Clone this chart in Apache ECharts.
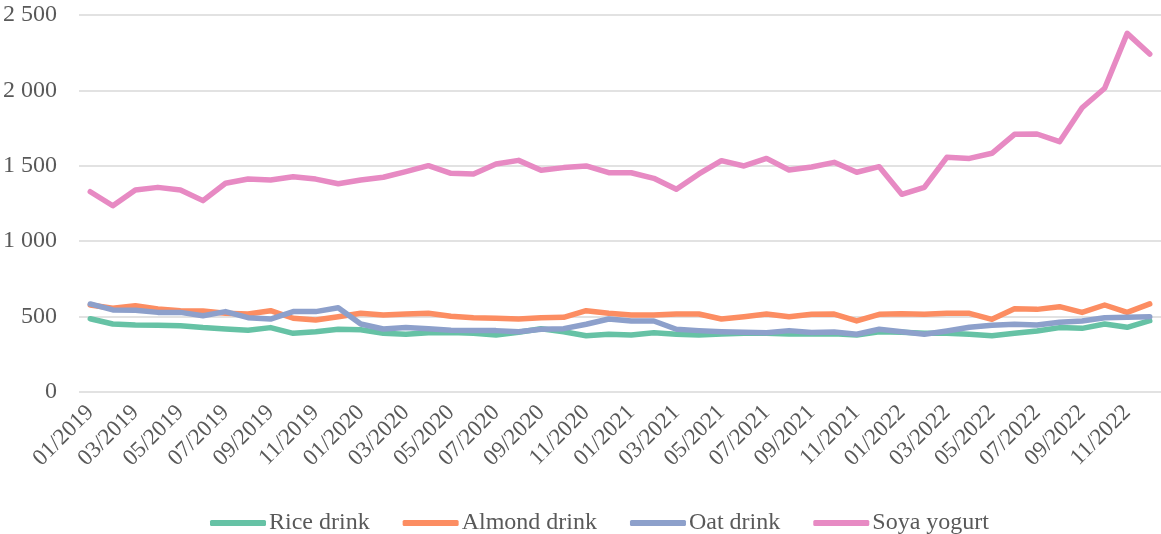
<!DOCTYPE html>
<html>
<head>
<meta charset="utf-8">
<script src="https://cdn.jsdelivr.net/npm/echarts@6/dist/echarts.min.js"></script>
<style>
html,body{margin:0;padding:0;background:#fff;}
#chart{width:1161px;height:534px;}
</style>
</head>
<body>
<div id="chart"></div>
<script>
const months = ["01/2019","02/2019","03/2019","04/2019","05/2019","06/2019","07/2019","08/2019","09/2019","10/2019","11/2019","12/2019",
"01/2020","02/2020","03/2020","04/2020","05/2020","06/2020","07/2020","08/2020","09/2020","10/2020","11/2020","12/2020",
"01/2021","02/2021","03/2021","04/2021","05/2021","06/2021","07/2021","08/2021","09/2021","10/2021","11/2021","12/2021",
"01/2022","02/2022","03/2022","04/2022","05/2022","06/2022","07/2022","08/2022","09/2022","10/2022","11/2022","12/2022"];

const riceDrink = [486,451,444,442,440,427,418,409,427,389,400,416,413,389,383,393,395,389,378,396,420,400,373,383,378,393,383,378,385,389,389,385,385,387,378,400,396,389,389,383,373,389,405,427,422,451,429,473];
const almondDrink = [577,555,572,550,539,537,522,517,539,489,477,499,522,511,517,522,503,493,489,484,493,495,539,522,511,511,517,517,484,499,517,499,516,517,471,515,519,515,522,522,482,552,548,566,528,577,528,584];
const oatDrink = [584,544,542,528,528,506,533,493,484,533,533,559,451,418,427,420,409,407,407,400,416,420,449,484,471,471,416,407,400,396,393,407,395,398,383,416,400,383,405,429,442,449,444,462,471,493,495,499];
const soyaYogurt = [1328,1235,1340,1357,1340,1269,1384,1412,1406,1428,1412,1381,1406,1424,1461,1501,1450,1446,1512,1536,1470,1488,1499,1454,1454,1417,1344,1446,1534,1499,1549,1472,1492,1523,1457,1494,1311,1357,1556,1549,1583,1709,1711,1660,1885,2014,2378,2241];

const seriesNames = ["Rice drink","Almond drink","Oat drink","Soya yogurt"];
const seriesColors = ["#66c2a5","#fc8d62","#8da0cb","#e78ac3"];
const seriesData = [riceDrink, almondDrink, oatDrink, soyaYogurt];

const FONT = '"Liberation Serif","Times New Roman",serif';
const chart = echarts.init(document.getElementById('chart'), null, {renderer:'canvas'});
chart.setOption({
  animation:false,
  color: seriesColors,
  grid:{left:79,right:0,top:15,bottom:142,containLabel:false},
  legend:{
    left:205, top:506,
    itemWidth:56, itemHeight:6, itemGap:33,
    icon:'roundRect',
    textStyle:{fontFamily:FONT,fontSize:24,color:'#595959',padding:[0,0,0,-2]},
    data: seriesNames
  },
  xAxis:{
    type:'category',
    data: months,
    boundaryGap:true,
    axisLine:{show:false},
    axisTick:{show:false},
    axisLabel:{interval:1,rotate:45,margin:17,fontFamily:FONT,fontSize:23,color:'#595959'}
  },
  yAxis:{
    type:'value',
    min:0,max:2500,interval:500,
    axisLine:{show:false},
    axisTick:{show:false},
    splitLine:{lineStyle:{color:'#d9d9d9',width:1.5}},
    axisLabel:{margin:22,fontFamily:FONT,fontSize:24,color:'#595959',
      formatter:v=>String(v).replace(/\B(?=(\d{3})+(?!\d))/g,' ')}
  },
  series: seriesNames.map((n,i)=>({
    name:n,type:'line',data:seriesData[i],showSymbol:false,symbol:'none',
    lineStyle:{width:5.5,cap:'round',join:'round',color:seriesColors[i]},
    itemStyle:{color:seriesColors[i]}
  }))
});
</script>
</body>
</html>
